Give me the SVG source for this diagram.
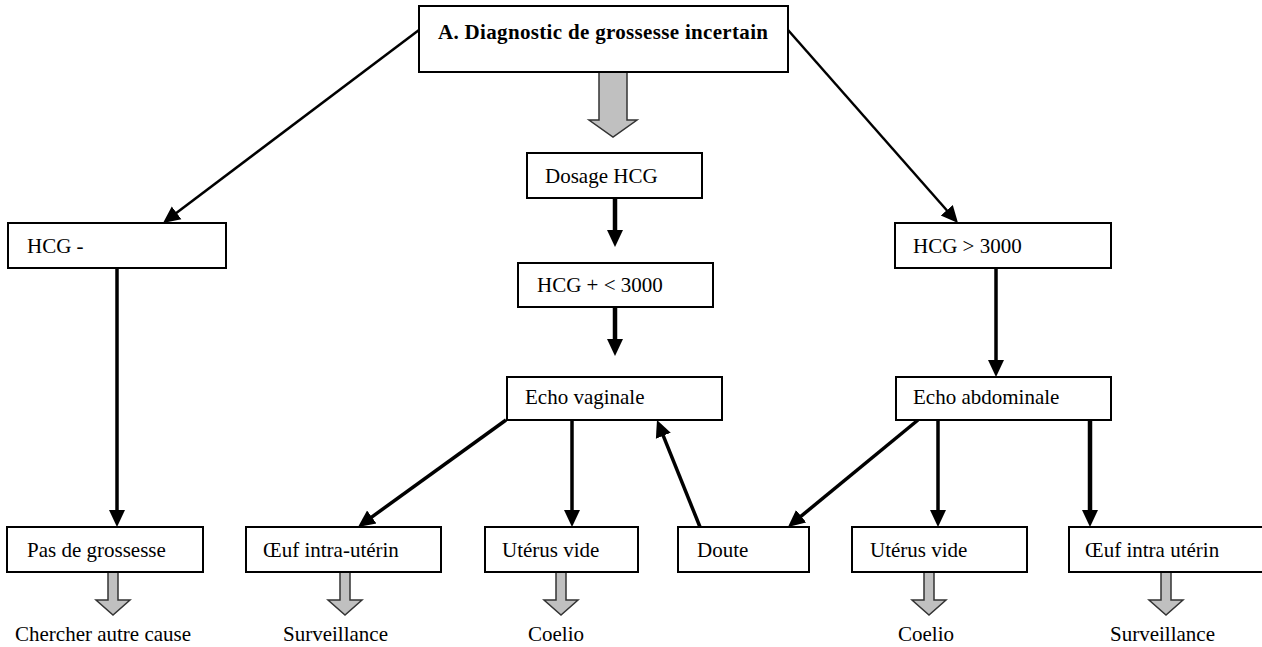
<svg xmlns="http://www.w3.org/2000/svg" width="1262" height="647" viewBox="0 0 1262 647">
  <style>
    .box { fill: #fff; stroke: #000; stroke-width: 2; }
    .lbl { font-family: 'Liberation Serif', 'DejaVu Serif', 'Times New Roman', serif; font-size: 21px; fill: #000; }
    .title { font-weight: bold; }
    .edge { stroke: #000; fill: none; stroke-linecap: butt; }
    .thin { stroke-width: 2.5; }
    .thick { stroke-width: 3.5; }
    .heavy { stroke-width: 4.5; }
    .block { fill: #c0c0c0; stroke: #333; stroke-width: 1.5; }
  </style>
  <defs>
    <!-- solid arrowhead; the line stops 10px before the tip -->
    <marker id="head" markerUnits="userSpaceOnUse" markerWidth="18" markerHeight="18" viewBox="0 0 18 18" refX="7" refY="9" orient="auto">
      <path d="M0,1 L17,9 L0,17 Z" fill="#000"/>
    </marker>
  </defs>
  <rect width="1262" height="647" fill="#fff"/>

  <!-- connectors -->
  <g id="connectors">
    <line class="edge thin" x1="419" y1="30" x2="171" y2="217" marker-end="url(#head)"/>
    <line class="edge thin" x1="788" y1="30" x2="951.4" y2="215.5" marker-end="url(#head)"/>
    <line class="edge heavy" x1="615" y1="198" x2="615" y2="237" marker-end="url(#head)"/>
    <line class="edge heavy" x1="615" y1="307" x2="615" y2="346" marker-end="url(#head)"/>
    <line class="edge thick" x1="117" y1="268" x2="117" y2="517" marker-end="url(#head)"/>
    <line class="edge thick" x1="996" y1="268" x2="996" y2="367" marker-end="url(#head)"/>
    <line class="edge thick" x1="506" y1="420" x2="366.1" y2="521.1" marker-end="url(#head)"/>
    <line class="edge thick" x1="572" y1="420" x2="572" y2="517" marker-end="url(#head)"/>
    <line class="edge thick" x1="700" y1="527" x2="660.7" y2="429.3" marker-end="url(#head)"/>
    <line class="edge thick" x1="918" y1="420" x2="795.7" y2="520.6" marker-end="url(#head)"/>
    <line class="edge thick" x1="938" y1="420" x2="938" y2="517" marker-end="url(#head)"/>
    <line class="edge heavy" x1="1090" y1="420" x2="1090" y2="517" marker-end="url(#head)"/>

    <!-- grey block arrows -->
    <path class="block" d="M599,72 L627,72 L627,120 L637,120 L613,137 L589,120 L599,120 Z"/>
    <path class="block" d="M108,572 L118,572 L118,600 L130,600 L113,615 L96,600 L108,600 Z"/>
    <path class="block" d="M340,572 L350,572 L350,600 L362,600 L345,615 L328,600 L340,600 Z"/>
    <path class="block" d="M556,572 L566,572 L566,600 L578,600 L561,615 L544,600 L556,600 Z"/>
    <path class="block" d="M924,572 L934,572 L934,600 L946,600 L929,615 L912,600 L924,600 Z"/>
    <path class="block" d="M1161,572 L1171,572 L1171,600 L1183,600 L1166,615 L1149,600 L1161,600 Z"/>
  </g>

  <g id="n-diagnostic">
    <rect class="box" x="419" y="6" width="369" height="66"/>
    <text class="lbl title" x="438" y="39" textLength="330">A. Diagnostic de grossesse incertain</text>
  </g>
  <g id="n-dosage">
    <rect class="box" x="527" y="153" width="175" height="45"/>
    <text class="lbl" x="545" y="183">Dosage HCG</text>
  </g>
  <g id="n-hcg-neg">
    <rect class="box" x="8" y="223" width="218" height="45"/>
    <text class="lbl" x="27" y="253">HCG -</text>
  </g>
  <g id="n-hcg-low">
    <rect class="box" x="518" y="263" width="195" height="44"/>
    <text class="lbl" x="537" y="292">HCG + &lt; 3000</text>
  </g>
  <g id="n-hcg-high">
    <rect class="box" x="895" y="223" width="216" height="45"/>
    <text class="lbl" x="913" y="253">HCG &gt; 3000</text>
  </g>
  <g id="n-echo-vag">
    <rect class="box" x="507" y="377" width="215" height="43"/>
    <text class="lbl" x="525" y="404">Echo vaginale</text>
  </g>
  <g id="n-echo-abd">
    <rect class="box" x="896" y="377" width="215" height="43"/>
    <text class="lbl" x="913" y="404">Echo abdominale</text>
  </g>
  <g id="n-pas-grossesse">
    <rect class="box" x="7" y="527" width="196" height="45"/>
    <text class="lbl" x="27" y="557">Pas de grossesse</text>
  </g>
  <g id="n-oeuf-1">
    <rect class="box" x="246" y="527" width="195" height="45"/>
    <text class="lbl" x="263" y="557">Œuf intra-utérin</text>
  </g>
  <g id="n-uterus-1">
    <rect class="box" x="485" y="527" width="153" height="45"/>
    <text class="lbl" x="502" y="557">Utérus vide</text>
  </g>
  <g id="n-doute">
    <rect class="box" x="678" y="527" width="131" height="45"/>
    <text class="lbl" x="697" y="557">Doute</text>
  </g>
  <g id="n-uterus-2">
    <rect class="box" x="852" y="527" width="175" height="45"/>
    <text class="lbl" x="870" y="557">Utérus vide</text>
  </g>
  <g id="n-oeuf-2">
    <rect class="box" x="1069" y="527" width="200" height="45"/>
    <text class="lbl" x="1085" y="557">Œuf intra utérin</text>
  </g>

  <g id="outcomes">
    <text class="lbl" x="15" y="641">Chercher autre cause</text>
    <text class="lbl" x="283" y="641">Surveillance</text>
    <text class="lbl" x="528" y="641">Coelio</text>
    <text class="lbl" x="898" y="641">Coelio</text>
    <text class="lbl" x="1110" y="641">Surveillance</text>
  </g>
</svg>
